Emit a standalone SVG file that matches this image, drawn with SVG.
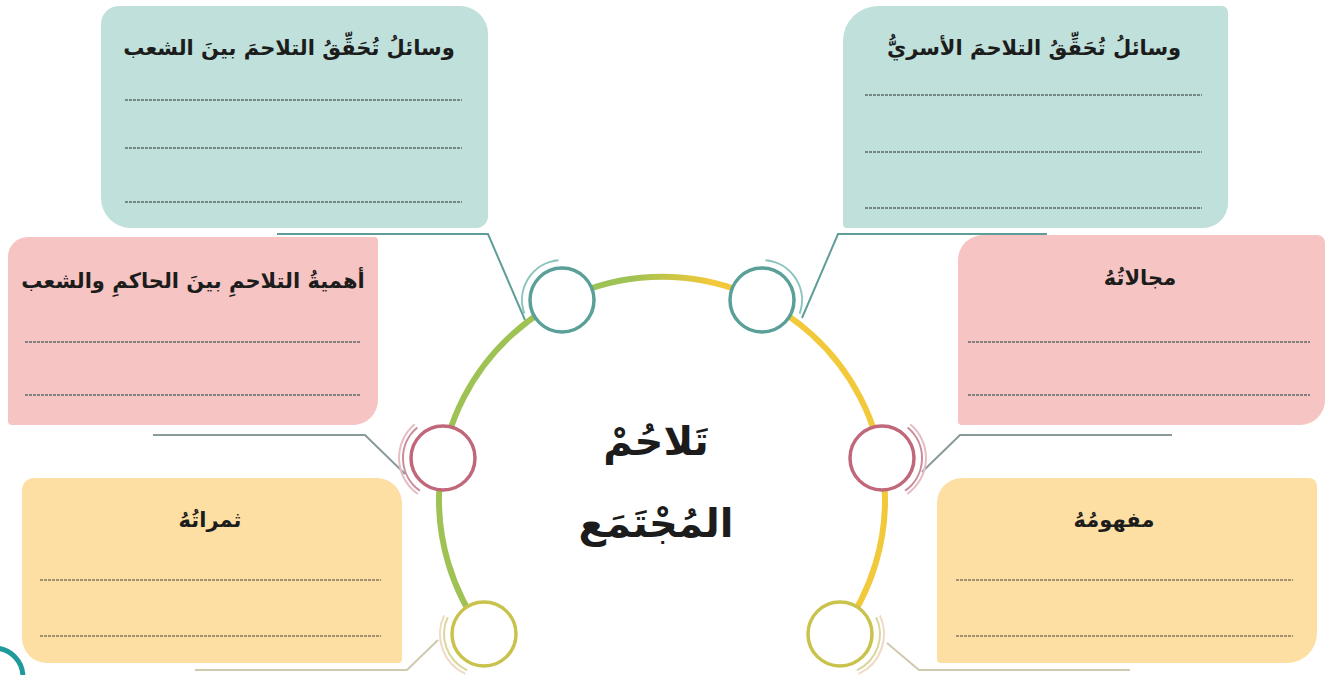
<svg xmlns="http://www.w3.org/2000/svg" width="1337" height="675" viewBox="0 0 1337 675">
<style>
.teal{fill:#bfe0db}
.pink{fill:#f6c4c2}
.orng{fill:#fddfa3}
.ln{stroke:#5e6b69;stroke-width:1.3;stroke-dasharray:3 1;fill:none}
.lno{stroke:#857a60;stroke-width:1.3;stroke-dasharray:3 1;fill:none}
.t{font-family:"DejaVu Sans",sans-serif;font-weight:bold;fill:#1c1c1c;text-anchor:middle}
.node{fill:#ffffff;stroke-width:3.5}
.cn{fill:none;stroke-width:2}
.echo{fill:none;stroke-width:2}
</style>
<defs>
<linearGradient id="arcg" gradientUnits="userSpaceOnUse" x1="630" y1="0" x2="710" y2="0">
<stop offset="0" stop-color="#9fc255"/>
<stop offset="1" stop-color="#f1c93a"/>
</linearGradient>
</defs>
<rect width="1337" height="675" fill="#ffffff"/>

<g id="connectors">
<polyline class="cn" stroke="#5f9e98" points="277,234 488,234 525,320"/>
<polyline class="cn" stroke="#5f9e98" points="1047,234 838,234 802,318"/>
<polyline class="cn" stroke="#8a9a9b" points="153,435 365,435 405,474"/>
<polyline class="cn" stroke="#8a9a9b" points="1172,435 960,435 922,472"/>
<polyline class="cn" stroke="#cfc9ae" points="195,670 407,670 438,640"/>
<polyline class="cn" stroke="#cfc9ae" points="1130,670 919,670 887,643"/>
</g>

<g id="box-tl">
<path class="teal" d="M119,6 H460 A28,28 0 0 1 488,34 V216 A12,12 0 0 1 476,228 H131 A30,30 0 0 1 101,198 V24 A18,18 0 0 1 119,6 Z"/>
<text class="t" x="289" y="55" font-size="21" direction="rtl">وسائلُ تُحَقِّقُ التلاحمَ بينَ الشعب</text>
<line class="ln" x1="125" y1="100" x2="462" y2="100"/>
<line class="ln" x1="125" y1="148" x2="462" y2="148"/>
<line class="ln" x1="125" y1="202" x2="462" y2="202"/>
</g>

<g id="box-tr">
<path class="teal" d="M878,6 H1222 A6,6 0 0 1 1228,12 V203 A25,25 0 0 1 1203,228 H847 A4,4 0 0 1 843,224 V41 A35,35 0 0 1 878,6 Z"/>
<text class="t" x="1034" y="55" font-size="21" direction="rtl">وسائلُ تُحَقِّقُ التلاحمَ الأسريُّ</text>
<line class="ln" x1="865" y1="95" x2="1202" y2="95"/>
<line class="ln" x1="865" y1="152" x2="1202" y2="152"/>
<line class="ln" x1="865" y1="208" x2="1202" y2="208"/>
</g>

<g id="box-ml">
<path class="pink" d="M28,237 H374 A4,4 0 0 1 378,241 V400 A25,25 0 0 1 353,425 H12 A4,4 0 0 1 8,421 V257 A20,20 0 0 1 28,237 Z"/>
<text class="t" x="193" y="288" font-size="21" direction="rtl">أهميةُ التلاحمِ بينَ الحاكمِ والشعب</text>
<line class="ln" x1="25" y1="342" x2="360" y2="342"/>
<line class="ln" x1="25" y1="395" x2="360" y2="395"/>
</g>

<g id="box-mr">
<path class="pink" d="M983,235 H1317 A8,8 0 0 1 1325,243 V400 A25,25 0 0 1 1300,425 H962 A4,4 0 0 1 958,421 V260 A25,25 0 0 1 983,235 Z"/>
<text class="t" x="1140" y="285" font-size="21" direction="rtl">مجالاتُهُ</text>
<line class="ln" x1="968" y1="342" x2="1310" y2="342"/>
<line class="ln" x1="968" y1="395" x2="1310" y2="395"/>
</g>

<g id="box-bl">
<path class="orng" d="M34,478 H377 A25,25 0 0 1 402,503 V659 A4,4 0 0 1 398,663 H47 A25,25 0 0 1 22,638 V490 A12,12 0 0 1 34,478 Z"/>
<text class="t" x="210" y="527" font-size="21" direction="rtl">ثمراتُهُ</text>
<line class="lno" x1="40" y1="580" x2="381" y2="580"/>
<line class="lno" x1="40" y1="636" x2="381" y2="636"/>
</g>

<g id="box-br">
<path class="orng" d="M962,478 H1309 A8,8 0 0 1 1317,486 V633 A30,30 0 0 1 1287,663 H941 A4,4 0 0 1 937,659 V503 A25,25 0 0 1 962,478 Z"/>
<text class="t" x="1114" y="527" font-size="21" direction="rtl">مفهومُهُ</text>
<line class="lno" x1="956" y1="580" x2="1293" y2="580"/>
<line class="lno" x1="956" y1="636" x2="1293" y2="636"/>
</g>

<g id="ring">
<path d="M484,634 A223,223 0 1 1 840,634" fill="none" stroke="url(#arcg)" stroke-width="6"/>
</g>

<g id="center">
<text class="t" x="656" y="455" font-size="40" direction="rtl">تَلاحُمْ</text>
<text class="t" x="656" y="537" font-size="40" direction="rtl">المُجْتَمَع</text>
</g>

<g id="node-tl">
<path class="echo" stroke="#8cc4bd" d="M558.5,260.2 A40,40 0 0 0 524.4,313.7"/>
<circle class="node" cx="562" cy="300" r="32" stroke="#5a9f98"/>
</g>
<g id="node-tr">
<path class="echo" stroke="#8cc4bd" d="M765.5,260.2 A40,40 0 0 1 799.6,313.7"/>
<circle class="node" cx="762" cy="300" r="32" stroke="#5a9f98"/>
</g>
<g id="node-ml">
<path class="echo" stroke="#c98d9a" d="M417.3,427.4 A40,40 0 0 0 420,490.8"/>
<path class="echo" stroke="#e6bdc5" d="M414.7,424.3 A44,44 0 0 0 417.8,494"/>
<circle class="node" cx="443" cy="458" r="32" stroke="#c0677a"/>
</g>
<g id="node-mr">
<path class="echo" stroke="#c98d9a" d="M907.7,427.4 A40,40 0 0 1 905,490.8"/>
<path class="echo" stroke="#e6bdc5" d="M910.3,424.3 A44,44 0 0 1 907.2,494"/>
<circle class="node" cx="882" cy="458" r="32" stroke="#c0677a"/>
</g>
<g id="node-bl">
<path class="echo" stroke="#d9d89c" d="M447.8,617.1 A40,40 0 0 0 467.1,670.3"/>
<path class="echo" stroke="#efd9c4" d="M444.1,615.4 A44,44 0 0 0 465.4,673.9"/>
<circle class="node" cx="484" cy="634" r="32" stroke="#c9c24c"/>
</g>
<g id="node-br">
<path class="echo" stroke="#d9d89c" d="M876.2,617.1 A40,40 0 0 1 856.9,670.3"/>
<path class="echo" stroke="#efd9c4" d="M879.9,615.4 A44,44 0 0 1 858.6,673.9"/>
<circle class="node" cx="840" cy="634" r="32" stroke="#c9c24c"/>
</g>

<g id="badge">
<circle cx="-6" cy="677" r="29" fill="#ffffff" stroke="#1f9a9a" stroke-width="5"/>
</g>
</svg>
